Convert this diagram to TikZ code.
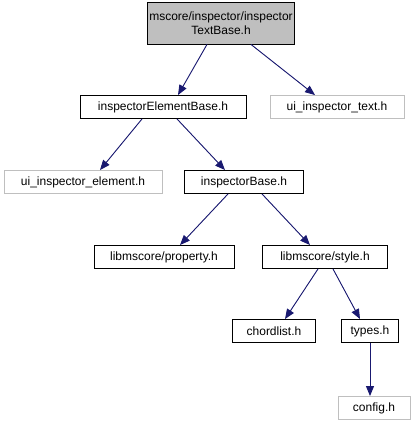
\documentclass[tikz,border=0pt]{standalone}
\usepackage{fontspec}
\setmainfont{Liberation Sans}
\usetikzlibrary{arrows.meta}

\definecolor{edgeblue}{HTML}{191970}
\definecolor{greyline}{HTML}{BFBFBF}
\definecolor{greyfill}{HTML}{BFBFBF}

\tikzset{
  file/.style={draw=black, line width=0.9pt, minimum height=23pt, inner sep=2pt, font=\fontsize{12}{14}\selectfont},
  extfile/.style={file, draw=greyline},
  incl/.style={draw=edgeblue, line width=0.9pt, -{Triangle[length=10pt,width=8pt]}, fill=edgeblue},
}

\begin{document}
\begin{tikzpicture}[x=1pt, y=-1pt]
    \useasboundingbox (0,0) rectangle (415,425);

    % Root file
    \node[file, fill=greyfill, minimum width=134pt, minimum height=42pt, align=center] (root) at (221,23)
        {mscore/inspector/inspector\\TextBase.h};

    % Level 1
    \node[file, minimum width=166pt] (elembase) at (163,107) {inspectorElementBase.h};
    \node[extfile, minimum width=134pt] (uitext) at (337,107) {ui\_inspector\_text.h};

    % Level 2
    \node[extfile, minimum width=158pt] (uielem) at (83,182) {ui\_inspector\_element.h};
    \node[file, minimum width=119pt] (inspbase) at (244,182) {inspectorBase.h};

    % Level 3
    \node[file, minimum width=140pt] (property) at (164,257) {libmscore/property.h};
    \node[file, minimum width=125pt] (style) at (325,257) {libmscore/style.h};

    % Level 4
    \node[file, minimum width=83pt] (chordlist) at (274,331) {chordlist.h};
    \node[file, minimum width=57pt] (types) at (370,331) {types.h};

    % Level 5
    \node[extfile, minimum width=72pt] (config) at (374,408) {config.h};

    % Include edges
    \draw[incl] ([xshift=-14pt]root.south) -- ([xshift=15pt]elembase.north);
    \draw[incl] ([xshift=30pt]root.south) -- ([xshift=-22pt]uitext.north);
    \draw[incl] ([xshift=-21pt]elembase.south) -- ([xshift=17pt]uielem.north);
    \draw[incl] ([xshift=14pt]elembase.south) -- ([xshift=-19pt]inspbase.north);
    \draw[incl] ([xshift=-16pt]inspbase.south) -- ([xshift=16pt]property.north);
    \draw[incl] ([xshift=18pt]inspbase.south) -- ([xshift=-15pt]style.north);
    \draw[incl] ([xshift=-7pt]style.south) -- ([xshift=11pt]chordlist.north);
    \draw[incl] ([xshift=8pt]style.south) -- ([xshift=-10pt]types.north);
    \draw[incl] (types.south) -- (types.south |- config.north);
\end{tikzpicture}
\end{document}
